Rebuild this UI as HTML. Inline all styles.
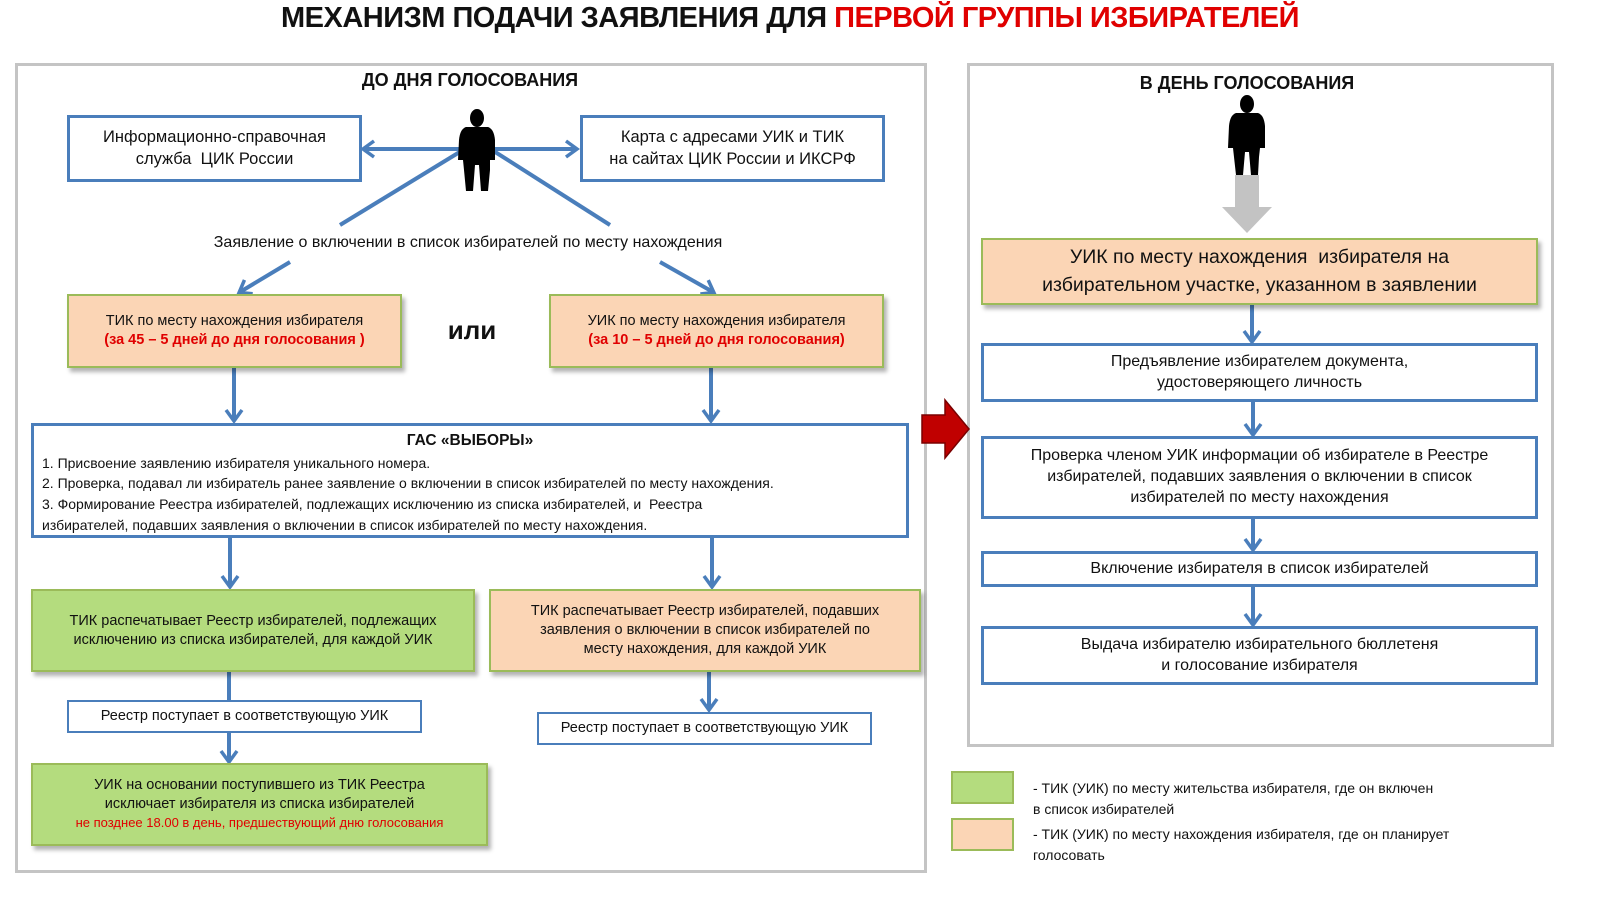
<!DOCTYPE html>
<html><head><meta charset="utf-8">
<style>
body{margin:0;width:1600px;height:900px;background:#fff;position:relative;overflow:hidden;font-family:"Liberation Sans",sans-serif;color:#111}
.a{position:absolute;box-sizing:border-box}
.b{position:absolute;box-sizing:border-box;display:flex;align-items:center;justify-content:center;text-align:center;line-height:1.3}
.bl{border:3px solid #4a7ebb;background:#fff}
.or{background:#fbd5b5;border:2px solid #9bbb59;box-shadow:3px 4px 4px rgba(0,0,0,.3)}
.gr{background:#b4dc7e;border:2px solid #9bbb59;box-shadow:3px 4px 4px rgba(0,0,0,.3)}
.red{color:#e00000;font-weight:bold}
.pn{border:3px solid #c4c4c4}
</style></head><body>
<div class="a" style="left:0;top:2px;width:1580px;text-align:center;font-size:29px;font-weight:bold;letter-spacing:-0.5px">МЕХАНИЗМ ПОДАЧИ ЗАЯВЛЕНИЯ ДЛЯ <span style="color:#e00000">ПЕРВОЙ ГРУППЫ ИЗБИРАТЕЛЕЙ</span></div>

<div class="a pn" style="left:15px;top:63px;width:912px;height:810px"></div>
<div class="a pn" style="left:967px;top:63px;width:587px;height:684px"></div>

<div class="a" style="left:270px;top:70px;width:400px;text-align:center;font-weight:bold;font-size:18px">ДО ДНЯ ГОЛОСОВАНИЯ</div>
<div class="a" style="left:1047px;top:73px;width:400px;text-align:center;font-weight:bold;font-size:18px">В ДЕНЬ ГОЛОСОВАНИЯ</div>

<svg class="a" style="left:0;top:0" width="1600" height="900">
<defs><marker id="ar" markerWidth="20" markerHeight="20" refX="13" refY="10" orient="auto" markerUnits="userSpaceOnUse"><path d="M3,2 L14,10 L3,18" fill="none" stroke="#4a7ebb" stroke-width="3.5"/></marker></defs>
<g stroke="#4a7ebb" stroke-width="4" fill="none">
<line x1="460" y1="149" x2="364" y2="149" marker-end="url(#ar)"/>
<line x1="494" y1="149" x2="576" y2="149" marker-end="url(#ar)"/>
<line x1="463" y1="150" x2="340" y2="225"/>
<line x1="492" y1="150" x2="610" y2="225"/>
<line x1="290" y1="262" x2="240" y2="292" marker-end="url(#ar)"/>
<line x1="660" y1="262" x2="713" y2="292" marker-end="url(#ar)"/>
<line x1="234" y1="368" x2="234" y2="420" marker-end="url(#ar)"/>
<line x1="711" y1="368" x2="711" y2="420" marker-end="url(#ar)"/>
<line x1="230" y1="538" x2="230" y2="586" marker-end="url(#ar)"/>
<line x1="712" y1="538" x2="712" y2="586" marker-end="url(#ar)"/>
<line x1="229" y1="671" x2="229" y2="700"/>
<line x1="229" y1="732" x2="229" y2="761" marker-end="url(#ar)"/>
<line x1="709" y1="672" x2="709" y2="709" marker-end="url(#ar)"/>
<line x1="1252" y1="305" x2="1252" y2="341" marker-end="url(#ar)"/>
<line x1="1253" y1="401" x2="1253" y2="434" marker-end="url(#ar)"/>
<line x1="1253" y1="518" x2="1253" y2="549" marker-end="url(#ar)"/>
<line x1="1253" y1="586" x2="1253" y2="624" marker-end="url(#ar)"/>
</g>
<g fill="#000">
<ellipse cx="477" cy="118" rx="7" ry="9"/>
<path d="M466,127 L488,127 Q494,129 495,140 L495,160 L490,160 L490,170 L488,191 L481,191 L479,165 L475,165 L473,191 L466,191 L464,170 L463,160 L458,160 L459,140 Q460,129 466,127Z"/>
<ellipse cx="1247" cy="104" rx="7" ry="9"/>
<path d="M1236,113 L1258,113 Q1264,115 1265,126 L1265,148 L1260,148 L1259,157 L1258,175 L1251,175 L1249,152 L1245,152 L1243,175 L1236,175 L1234,157 L1233,148 L1228,148 L1229,126 Q1230,115 1236,113Z"/>
</g>
<path d="M1235,175 L1259,175 L1259,207 L1272,207 L1247,233 L1222,207 L1235,207Z" fill="#c3c3c3"/>
<path d="M922,415 L945,415 L945,400 L969,429 L945,458 L945,443 L922,443Z" fill="#c00000" stroke="#7a0000" stroke-width="1.5"/>
</svg>

<div class="b bl" style="left:67px;top:115px;width:295px;height:67px;font-size:16.5px"><div>Информационно-справочная<br>служба&nbsp; ЦИК России</div></div>
<div class="b bl" style="left:580px;top:115px;width:305px;height:67px;font-size:16.5px"><div>Карта с адресами УИК и ТИК<br>на сайтах ЦИК России и ИКСРФ</div></div>

<div class="a" style="left:140px;top:234px;width:656px;text-align:center;font-size:16px">Заявление о включении в список избирателей по месту нахождения</div>

<div class="b or" style="left:67px;top:294px;width:335px;height:74px;font-size:14.5px"><div>ТИК по месту нахождения избирателя<br><span class="red">(за 45 – 5 дней до дня голосования )</span></div></div>
<div class="a" style="left:430px;top:315px;width:84px;text-align:center;font-size:26px;font-weight:bold">или</div>
<div class="b or" style="left:549px;top:294px;width:335px;height:74px;font-size:14.5px"><div>УИК по месту нахождения избирателя<br><span class="red">(за 10 – 5 дней до дня голосования)</span></div></div>

<div class="a bl" style="left:31px;top:423px;width:878px;height:115px;font-size:14px;padding:4px 8px;line-height:1.47">
<div style="text-align:center;font-weight:bold;font-size:15.5px">ГАС «ВЫБОРЫ»</div>
1. Присвоение заявлению избирателя уникального номера.<br>
2. Проверка, подавал ли избиратель ранее заявление о включении в список избирателей по месту нахождения.<br>
3. Формирование Реестра избирателей, подлежащих исключению из списка избирателей, и&nbsp; Реестра<br>избирателей, подавших заявления о включении в список избирателей по месту нахождения.
</div>

<div class="b gr" style="left:31px;top:589px;width:444px;height:83px;font-size:14.5px"><div>ТИК распечатывает Реестр избирателей, подлежащих<br>исключению из списка избирателей, для каждой УИК</div></div>
<div class="b or" style="left:489px;top:589px;width:432px;height:83px;font-size:14.5px"><div>ТИК распечатывает Реестр избирателей, подавших<br>заявления о включении в список избирателей по<br>месту нахождения, для каждой УИК</div></div>
<div class="b bl" style="left:67px;top:700px;width:355px;height:33px;font-size:14.5px;border-width:2px">Реестр поступает в соответствующую УИК</div>
<div class="b bl" style="left:537px;top:712px;width:335px;height:33px;font-size:14.5px;border-width:2px">Реестр поступает в соответствующую УИК</div>
<div class="b gr" style="left:31px;top:763px;width:457px;height:83px;font-size:14.5px"><div>УИК на основании поступившего из ТИК Реестра<br>исключает избирателя из списка избирателей<br><span class="red" style="font-weight:normal;font-size:13px">не позднее 18.00 в день, предшествующий дню голосования</span></div></div>

<div class="b or" style="left:981px;top:238px;width:557px;height:67px;font-size:19.5px;line-height:1.4"><div>УИК по месту нахождения&nbsp; избирателя на<br>избирательном участке, указанном в заявлении</div></div>
<div class="b bl" style="left:981px;top:343px;width:557px;height:59px;font-size:16px"><div>Предъявление избирателем документа,<br>удостоверяющего личность</div></div>
<div class="b bl" style="left:981px;top:436px;width:557px;height:83px;font-size:16px"><div>Проверка членом УИК информации об избирателе в Реестре<br>избирателей, подавших заявления о включении в список<br>избирателей по месту нахождения</div></div>
<div class="b bl" style="left:981px;top:551px;width:557px;height:36px;font-size:16px">Включение избирателя в список избирателей</div>
<div class="b bl" style="left:981px;top:626px;width:557px;height:59px;font-size:16px"><div>Выдача избирателю избирательного бюллетеня<br>и голосование избирателя</div></div>

<div class="a" style="left:951px;top:771px;width:63px;height:33px;background:#b4dc7e;border:2px solid #9bbb59"></div>
<div class="a" style="left:951px;top:818px;width:63px;height:33px;background:#fbd5b5;border:2px solid #9bbb59"></div>
<div class="a" style="left:1033px;top:778px;font-size:14px;line-height:1.5">- ТИК (УИК) по месту жительства избирателя, где он включен<br>в список избирателей</div>
<div class="a" style="left:1033px;top:824px;font-size:14px;line-height:1.5">- ТИК (УИК) по месту нахождения избирателя, где он планирует<br>голосовать</div>
</body></html>
